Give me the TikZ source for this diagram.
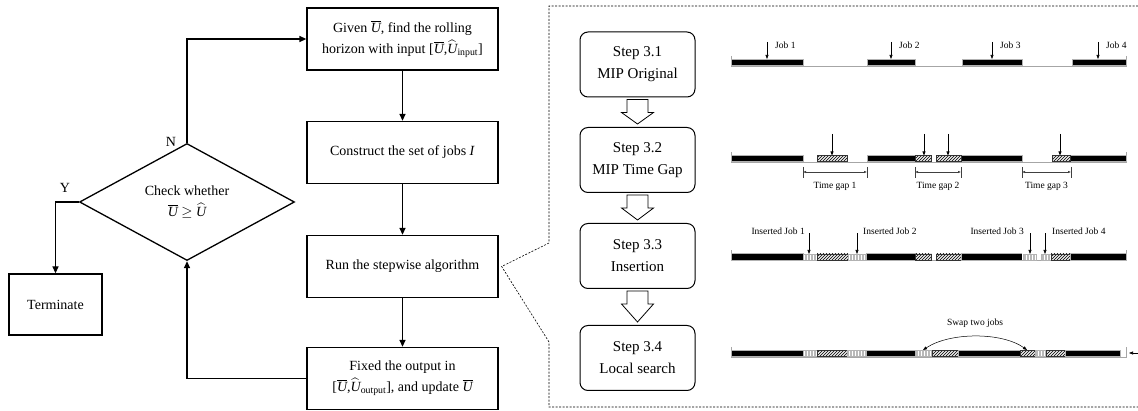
\documentclass[tikz,border=0pt]{standalone}
\usepackage{amsmath}
\usepackage{fontspec}
\setmainfont{Liberation Serif}
\usetikzlibrary{shapes.geometric,arrows.meta,patterns,calc}
\newcommand\Ub{\ensuremath{\overline{\textit{U}}}}
\newcommand\Uh{\ensuremath{\widehat{\textit{U}}}}
\newcommand\tlblack[2]{\filldraw[fill=black, draw=gray!60, line width=0.5pt] (#1,0) rectangle (#2,6.5);}
\newcommand\tldiag[2]{\fill[gray!15] (#1,0.5) rectangle (#2,6.5); \fill[pattern=north east lines] (#1,0.5) rectangle (#2,6.5); \draw[gray!40!black, line width=0.5pt] (#1,0.5) rectangle (#2,6.5);}
\newcommand\tlvert[2]{\fill[gray!55] (#1,0.5) rectangle (#2,6.5); \fill[pattern=vertical lines, pattern color=white] (#1,0.5) rectangle (#2,6.5); \draw[gray!60, line width=0.5pt] (#1,0.5) rectangle (#2,6.5);}
\newcommand\tlbase[1]{\draw[gray!70, line width=1pt] (731.5,-3) -- (731.5,7.5) -- (1126,7.5) -- (1126,#1);}
\newcommand\hollowarr[2]{\draw[line width=0.8pt, fill=white] ($(#1.south)+(-10.5,2)$) -- ++(21,0) -- ++(0,13) -- ++(5.5,0) -- ($(#2.north)+(0,-3)$) -- ($(#1.south)+(-16,15)$) -- ++(5.5,0) -- cycle;}
\begin{document}
\begin{tikzpicture}[x=1pt,y=-1pt,
  box/.style={draw, line width=1.3pt, minimum width=191pt, minimum height=62pt, align=center, font=\fontsize{14}{21}\selectfont, inner sep=2pt},
  flow/.style={line width=1.3pt, -{Triangle[length=7pt,width=6pt]}},
  stepbox/.style={draw, line width=1pt, rounded corners=8pt, minimum width=115pt, minimum height=65pt, align=center, font=\fontsize{15}{22}\selectfont},
  joblab/.style={font=\fontsize{9.5}{11}\selectfont, inner sep=1pt},
  jobarr/.style={line width=0.6pt, -{Triangle[length=4pt,width=3pt]}},
  dimarr/.style={line width=0.5pt, black!75, {Latex[length=3pt,width=2.5pt]}-{Latex[length=3pt,width=2.5pt]}},
  tick/.style={line width=0.5pt, black!75}]
\useasboundingbox (0,0) rectangle (1138,411);

% left flowchart
\node[box] (b1) at (402.5,39) {Given \Ub, find the rolling\\horizon with input [\Ub,\Uh$_{\text{input}}$]};
\node[box] (b2) at (402.5,152.5) {Construct the set of jobs \textit{I}};
\node[box] (b3) at (402.5,266.5) {Run the stepwise algorithm};
\node[box] (b4) at (402.5,378.5) {Fixed the output in\\{}[\Ub,\Uh$_{\text{output}}$], and update \Ub};
\node[draw, diamond, line width=1.3pt, minimum width=215pt, minimum height=89pt, inner sep=0pt, align=center, font=\fontsize{14}{21}\selectfont] (dia) at (187,202) {Check whether\\ \Ub\ $\geq$ \Uh};
\node[box, minimum width=93pt, minimum height=61pt] (term) at (55.5,304.5) {Terminate};
\node[font=\fontsize{14}{16}\selectfont] (nlab) at (171,142) {N};
\node[font=\fontsize{14}{16}\selectfont] (ylab) at (65,188) {Y};

\draw[flow] (b1.south) -- (b2.north);
\draw[flow] (b2.south) -- (b3.north);
\draw[flow] (b3.south) -- (b4.north);
\draw[flow] (dia.north) |- (b1.west);
\draw[flow] (dia.west) -| (term.north);
\draw[flow] (b4.west) -| (dia.south);

% dashed callout
\coordinate (c3) at ($(b3.east)+(3,0)$);
\draw[dashed, dash pattern=on 2pt off 1.5pt, line width=0.6pt] (1138,6) -- (549,6) -- (549,243) -- (c3) -- (549,342) -- (549,407) -- (1138,407);

% step boxes
\node[stepbox] (s1) at (637.5,64.5) {Step 3.1\\MIP Original};
\node[stepbox] (s2) at (637.5,160) {Step 3.2\\MIP Time Gap};
\node[stepbox] (s3) at (637.5,256) {Step 3.3\\Insertion};
\node[stepbox] (s4) at (637.5,358) {Step 3.4\\Local search};
\hollowarr{s1}{s2}
\hollowarr{s2}{s3}
\hollowarr{s3}{s4}

% timeline 1
\begin{scope}[shift={(0,59)}]
\tlbase{-3}
\tlblack{731.5}{803} \tlblack{867}{915} \tlblack{962}{1022} \tlblack{1072}{1126}
\foreach \x/\n in {767/1,891/2,992/3,1098/4}{
  \draw[jobarr] (\x,-17) -- (\x,0);
  \node[joblab, anchor=west] at (\x+7,-14) {Job \n};
}
\end{scope}

% timeline 2
\begin{scope}[shift={(0,155)}]
\tlbase{-3}
\tlblack{731.5}{803} \tlblack{867}{915} \tlblack{961}{1022} \tlblack{1070}{1126}
\tldiag{817}{847} \tldiag{915}{931} \tldiag{936}{961} \tldiag{1052}{1070}
\foreach \x in {832,924,948,1060}{\draw[jobarr] (\x,-21) -- (\x,0.5);}
\foreach \a/\b/\n in {803/867/1,915/961/2,1022/1071/3}{
  \draw[tick] (\a,12) -- (\a,23);
  \draw[tick] (\b,12) -- (\b,23);
  \draw[dimarr] (\a,17) -- (\b,17);
  \node[joblab] at ({(\a+\b)/2},31) {Time gap \n};
}
\end{scope}

% timeline 3
\begin{scope}[shift={(0,253.5)}]
\tlbase{-3}
\tlblack{731.5}{803} \tlvert{803}{817} \tldiag{817}{848} \tlvert{848}{866.5}
\tlblack{866.5}{915} \tldiag{915}{931} \tldiag{936}{961} \tlblack{961}{1022}
\fill[white] (1022,-0.5) rectangle (1037,7); \tlvert{1023}{1036}
\tlvert{1041}{1051} \tldiag{1051}{1070} \tlblack{1070}{1126}
\foreach \x in {809,857,1030,1045}{\draw[jobarr] (\x,-20) -- (\x,0.5);}
\node[joblab, anchor=east] at (806,-22) {Inserted Job 1};
\node[joblab, anchor=west] at (862,-22) {Inserted Job 2};
\node[joblab, anchor=east] at (1025,-22) {Inserted Job 3};
\node[joblab, anchor=west] at (1051,-22) {Inserted Job 4};
\end{scope}

% timeline 4
\begin{scope}[shift={(0,350)}]
\tlbase{-3}
\tlblack{731.5}{803} \tlvert{803}{817} \tldiag{817}{847} \tlvert{847}{866.5}
\tlblack{866.5}{915} \tlvert{915}{931.5} \tldiag{932.5}{958} \tlblack{958}{1020}
\tldiag{1020}{1035} \tlvert{1035.5}{1046} \tldiag{1046.5}{1065} \tlblack{1065}{1120}
\coordinate (swa) at (923,0);
\coordinate (swb) at (1027,0);
\draw[line width=0.5pt, {Triangle[length=4pt,width=3pt]}-{Triangle[length=4pt,width=3pt]}] (swa) .. controls (950,-18) and (1002,-18) .. (swb);
\node[joblab] (swlab) at (975,-27) {Swap two jobs};
\coordinate (ra) at (1138,3);
\coordinate (rb) at (1129,3);
\draw[jobarr] (ra) -- (rb);
\end{scope}
\end{tikzpicture}
\end{document}
